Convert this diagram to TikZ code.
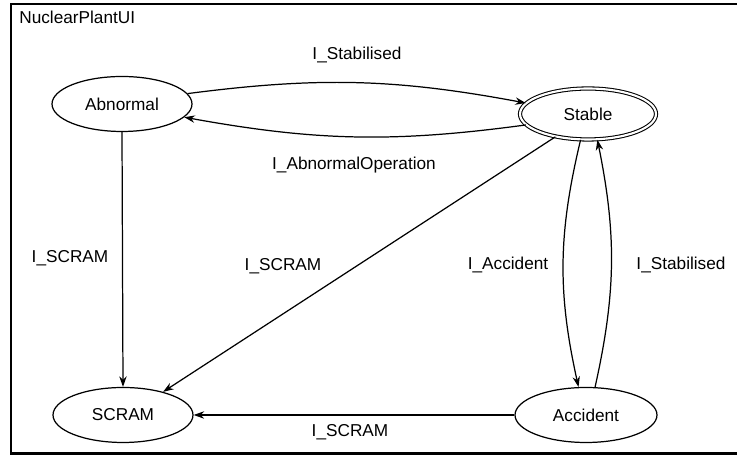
\documentclass[tikz,border=0pt]{standalone}
\usepackage{fontspec}
\setmainfont{Liberation Sans}
\usetikzlibrary{arrows.meta,shapes.geometric}

\begin{document}
\begin{tikzpicture}[x=0.02cm, y=0.02cm,
		state/.style={draw, ellipse, line width=0.7pt, inner sep=0pt, minimum width=2.8cm, minimum height=1.1cm, font=\fontsize{9.8}{11}\selectfont},
		lbl/.style={inner sep=0pt, font=\fontsize{9.8}{11}\selectfont},
		trans/.style={line width=0.7pt, -{Stealth[length=6pt, width=4.2pt]}}]
			%%%%% START %%%%%
			
			\useasboundingbox (0, 0) rectangle (737, 455);
			\draw[line width=1.3pt] (737, 451) -- (11, 451) -- (11, 1.5) -- (737, 1.5);
			\node[lbl, anchor=west] (title) at (19, 438) {NuclearPlantUI};
			
			\node[state] (abnormal) at (122, 351) {Abnormal};
			\node[state, line width=0.6pt, double, double distance=1.2pt, minimum width=2.72cm, minimum height=1.02cm] (stable) at (588, 341) {Stable};
			\node[state] (scram) at (123, 40) {SCRAM};
			\node[state, minimum width=2.84cm] (accident) at (586, 40) {Accident};
			
			\draw[trans] (abnormal.9) to[bend left=9] (stable.170);
			\draw[trans] (stable.190) to[bend left=9] (abnormal.348);
			\draw[trans] (abnormal.south) -- (scram.north);
			\draw[trans] (stable.215) -- (scram.30);
			\draw[trans] (stable.254) to[bend right=13] (accident.105);
			\draw[trans] (accident.72) to[bend right=12] (stable.290);
			\draw[trans] (accident.west) -- (scram.east);
			
			\node[lbl] (l_stab1) at (357, 400) {I\_Stabilised};
			\node[lbl] (l_abnop) at (354, 290) {I\_AbnormalOperation};
			\node[lbl] (l_scram1) at (70, 197) {I\_SCRAM};
			\node[lbl] (l_scram2) at (283, 189) {I\_SCRAM};
			\node[lbl] (l_acc) at (508, 190) {I\_Accident};
			\node[lbl] (l_stab2) at (681, 190) {I\_Stabilised};
			\node[lbl] (l_scram3) at (350, 23) {I\_SCRAM};
			
			%%%%% END %%%%%
		\end{tikzpicture}
\end{document}
